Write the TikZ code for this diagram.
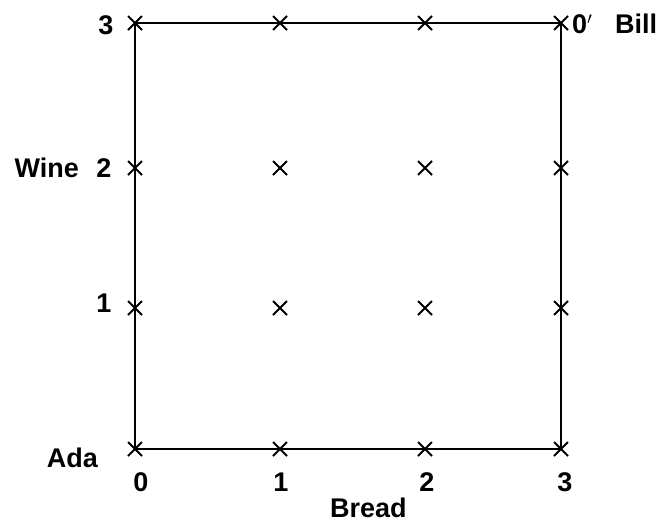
\documentclass[tikz,border=0pt]{standalone}
\usepackage{fontspec}
\setmainfont{Liberation Sans}
\begin{document}
\begin{tikzpicture}[x=1pt,y=-1pt,
  boxline/.style={line width=2pt},
  crossmark/.style={line width=2pt},
  lbl/.style={font=\fontsize{27}{30}\selectfont\bfseries, inner sep=0pt}]
\useasboundingbox (0,0) rectangle (665,525);
% grid coordinates
\foreach \i/\x in {0/135,1/280,2/425,3/561}{
  \foreach \j/\y in {0/449,1/308,2/168,3/23}{
    \coordinate (p\i\j) at (\x,\y);
  }
}
% box
\draw[boxline] (p00) -- (p30) -- (p33) -- (p03) -- cycle;
% crosses
\foreach \i in {0,1,2,3}{
  \foreach \j in {0,1,2,3}{
    \draw[crossmark] ([shift={(-7,-7)}]p\i\j) -- ([shift={(7,7)}]p\i\j)
                     ([shift={(-7,7)}]p\i\j) -- ([shift={(7,-7)}]p\i\j);
  }
}
% left labels
\node[lbl] (y3) at (106,25) {3};
\node[lbl] (y2) at (104,168) {2};
\node[lbl, anchor=east] (wine) at (79,168) {Wine};
\node[lbl] (y1) at (104,303) {1};
\node[lbl, anchor=east] (ada) at (98,458) {Ada};
% bottom labels
\node[lbl] (x0) at (141,482) {0};
\node[lbl] (x1) at (281,482) {1};
\node[lbl] (x2) at (427,482) {2};
\node[lbl] (x3) at (565,482) {3};
\node[lbl, anchor=west] (bread) at (330,508) {Bread};
% top right labels
\node[lbl, anchor=west] (oprime) at (572,24) {0$'$};
\node[lbl, anchor=west] (bill) at (615,24) {Bill};
\end{tikzpicture}
\end{document}
